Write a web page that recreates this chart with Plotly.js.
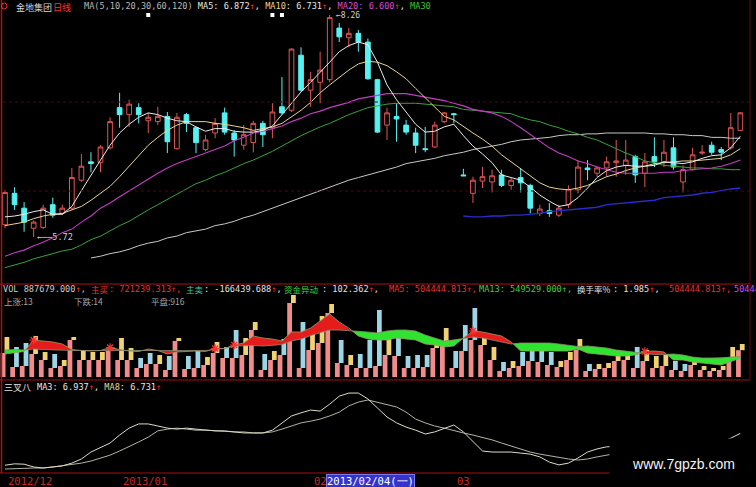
<!DOCTYPE html>
<html><head><meta charset="utf-8">
<script src="https://cdn.plot.ly/plotly-3.0.1.min.js"></script>
<style>html,body{margin:0;padding:0;background:#000;overflow:hidden}#chart{width:756px;height:487px}</style>
</head><body><div id="chart"></div>
<script>
// 金地集团 daily K-line, 2012-12-14 .. 2013-04-16
const dates = ['2012-12-14','2012-12-17','2012-12-18','2012-12-19','2012-12-20','2012-12-21','2012-12-24','2012-12-25','2012-12-26','2012-12-27','2012-12-28','2012-12-31',
 '2013-01-04','2013-01-07','2013-01-08','2013-01-09','2013-01-10','2013-01-11','2013-01-14','2013-01-15','2013-01-16','2013-01-17','2013-01-18','2013-01-21','2013-01-22','2013-01-23','2013-01-24','2013-01-25','2013-01-28','2013-01-29','2013-01-30','2013-01-31',
 '2013-02-01','2013-02-04','2013-02-05','2013-02-06','2013-02-07','2013-02-08','2013-02-18','2013-02-19','2013-02-20','2013-02-21','2013-02-22','2013-02-25','2013-02-26','2013-02-27','2013-02-28',
 '2013-03-01','2013-03-04','2013-03-05','2013-03-06','2013-03-07','2013-03-08','2013-03-11','2013-03-12','2013-03-13','2013-03-14','2013-03-15','2013-03-18','2013-03-19','2013-03-20','2013-03-21','2013-03-22','2013-03-25','2013-03-26','2013-03-27','2013-03-28','2013-03-29',
 '2013-04-01','2013-04-02','2013-04-03','2013-04-08','2013-04-09','2013-04-10','2013-04-11','2013-04-12','2013-04-15','2013-04-16'];

const open = [5.86,6.22,6.05,5.82,5.83,6.09,5.99,6.05,6.37,6.58,
 6.57,6.74,7.20,7.12,7.20,7.05,7.04,7.10,6.73,7.12,
 6.97,6.72,6.91,7.14,6.91,6.77,6.80,7.02,6.97,7.21,
 7.17,7.80,7.40,7.49,7.52,8.11,8.00,8.05,7.95,7.52,
 7.00,7.10,7.00,6.91,6.73,6.75,7.04,7.13,6.43,6.22,
 6.36,6.35,6.43,6.31,6.40,6.31,5.99,6.02,5.97,6.09,
 6.26,6.51,6.45,6.51,6.57,6.54,6.64,6.45,6.64,6.58,
 6.74,6.35,6.49,6.68,6.77,6.72,6.74,6.94];
const high = [6.26,6.29,6.12,5.91,6.09,6.17,6.09,6.51,6.67,6.69,
 6.77,7.09,7.37,7.29,7.25,7.14,7.21,7.15,7.14,7.14,
 6.98,6.89,7.08,7.20,6.94,7.00,7.05,7.05,7.25,7.55,
 7.88,7.89,7.61,7.84,8.26,8.17,8.11,8.09,7.99,7.53,
 7.20,7.25,7.06,6.97,6.98,7.04,7.15,7.14,6.50,6.41,
 6.52,6.49,6.49,6.40,6.51,6.33,6.09,6.11,6.09,6.31,
 6.60,6.60,6.53,6.64,6.83,6.83,6.66,6.68,6.86,6.83,
 6.86,6.54,6.74,6.77,6.81,6.75,7.14,7.15];
const low = [5.82,6.03,5.78,5.72,5.81,5.94,5.97,6.03,6.35,6.46,
 6.46,6.72,6.97,6.98,7.02,6.91,7.00,6.68,6.72,6.92,
 6.68,6.70,6.85,6.89,6.64,6.72,6.69,6.75,6.85,7.12,
 7.15,7.38,7.21,7.25,7.49,7.95,7.89,7.84,7.52,6.91,
 6.83,6.81,6.89,6.68,6.69,6.74,7.02,7.02,6.42,6.11,
 6.28,6.23,6.29,6.26,6.23,5.99,5.96,5.95,5.95,6.05,
 6.22,6.37,6.41,6.41,6.41,6.43,6.34,6.29,6.52,6.52,
 6.49,6.23,6.48,6.66,6.66,6.60,6.72,6.93];
const close = [6.23,6.09,5.89,5.89,6.05,5.97,6.05,6.40,6.53,6.56,
 6.75,7.04,7.12,7.24,7.12,7.09,7.10,6.81,7.09,7.02,
 6.80,6.83,7.02,6.92,6.83,6.89,7.02,6.89,7.15,7.14,
 7.87,7.40,7.52,7.63,8.23,8.01,8.05,7.95,7.53,6.92,
 7.14,7.07,6.92,6.77,6.72,7.00,7.14,7.12,6.42,6.37,
 6.41,6.42,6.31,6.37,6.34,6.05,6.04,5.99,6.05,6.26,
 6.52,6.49,6.51,6.58,6.59,6.60,6.43,6.58,6.58,6.69,
 6.52,6.49,6.66,6.69,6.69,6.69,6.97,7.14];

// price moving averages
const ma5 = [5.95,5.96,5.98,6.01,6.03,5.98,5.98,6.07,6.25,6.43,
 6.60,6.77,6.91,7.01,7.09,7.14,7.12,7.08,7.05,7.04,
 6.98,6.93,6.96,6.96,6.93,6.92,6.92,6.94,6.99,7.12,
 7.25,7.38,7.49,7.60,7.72,7.84,7.91,7.95,7.92,7.72,
 7.46,7.29,7.15,7.01,6.92,6.93,6.98,7.01,6.88,6.76,
 6.67,6.57,6.43,6.40,6.37,6.29,6.20,6.13,6.07,6.09,
 6.17,6.28,6.40,6.48,6.52,6.54,6.53,6.53,6.54,6.58,
 6.57,6.56,6.58,6.62,6.65,6.66,6.74,6.872];
const ma10 = [5.85,5.87,5.89,5.93,5.96,5.98,5.99,6.03,6.07,6.14,
 6.22,6.30,6.41,6.53,6.66,6.77,6.86,6.94,7.00,7.04,
 7.04,7.04,7.02,7.01,6.99,6.97,6.94,6.96,6.98,7.02,
 7.09,7.17,7.26,7.37,7.46,7.55,7.63,7.70,7.73,7.72,
 7.68,7.61,7.53,7.42,7.31,7.20,7.10,7.06,6.99,6.91,
 6.84,6.76,6.66,6.58,6.49,6.41,6.34,6.29,6.27,6.26,
 6.28,6.31,6.36,6.41,6.44,6.48,6.51,6.53,6.56,6.57,
 6.58,6.59,6.59,6.60,6.61,6.62,6.66,6.731];
const ma20 = [5.50,5.54,5.57,5.62,5.66,5.71,5.77,5.81,5.89,5.96,
 6.05,6.11,6.18,6.25,6.31,6.38,6.45,6.51,6.56,6.60,
 6.64,6.68,6.72,6.76,6.82,6.86,6.91,6.93,6.96,6.99,
 7.04,7.08,7.13,7.16,7.20,7.23,7.26,7.30,7.32,7.34,
 7.36,7.36,7.36,7.34,7.32,7.30,7.28,7.25,7.22,7.18,
 7.16,7.14,7.10,7.04,6.97,6.89,6.82,6.74,6.68,6.64,
 6.59,6.56,6.52,6.49,6.46,6.45,6.45,6.45,6.45,6.46,
 6.46,6.48,6.49,6.50,6.51,6.53,6.56,6.600];
const ma30 = [5.37,5.40,5.43,5.47,5.50,5.53,5.56,5.58,5.63,5.69,
 5.73,5.79,5.85,5.90,5.97,6.03,6.09,6.15,6.21,6.27,
 6.33,6.37,6.42,6.46,6.51,6.56,6.60,6.65,6.70,6.76,
 6.82,6.88,6.93,6.98,7.02,7.07,7.12,7.16,7.20,7.22,
 7.24,7.25,7.25,7.25,7.24,7.23,7.22,7.21,7.18,7.17,
 7.16,7.15,7.14,7.13,7.09,7.06,7.04,7.00,6.97,6.93,
 6.90,6.86,6.83,6.78,6.73,6.68,6.64,6.59,6.57,6.54,
 6.53,6.52,6.51,6.51,6.50,6.50,6.49,6.49];
const ma60 = [null,null,null,null,null,null,null,null,null,5.48,
 5.50,5.53,5.55,5.58,5.62,5.65,5.67,5.71,5.73,5.77,
 5.79,5.81,5.85,5.87,5.90,5.94,5.97,6.01,6.05,6.09,
 6.13,6.17,6.21,6.25,6.29,6.33,6.37,6.40,6.43,6.46,
 6.49,6.52,6.56,6.58,6.60,6.62,6.65,6.67,6.69,6.72,
 6.74,6.76,6.78,6.81,6.83,6.84,6.85,6.86,6.88,6.89,
 6.89,6.90,6.90,6.91,6.91,6.91,6.91,6.91,6.90,6.90,
 6.89,6.89,6.88,6.88,6.86,6.86,6.85,6.85];
const ma120 = [null,null,null,null,null,null,null,null,null,null,
 null,null,null,null,null,null,null,null,null,null,
 null,null,null,null,null,null,null,null,null,null,
 null,null,null,null,null,null,null,null,null,null,
 null,null,null,null,null,null,null,null,5.96,5.95,
 5.95,5.96,5.96,5.97,5.97,5.98,5.99,6.01,6.02,6.03,
 6.04,6.05,6.06,6.09,6.10,6.11,6.12,6.13,6.14,6.17,
 6.18,6.19,6.20,6.22,6.23,6.25,6.27,6.28];

// volume (手) and active-buy part of it
const volume = [1076000,807000,914600,1102900,672500,618700,457300,1076000,726300,672500,
 672500,807000,1049100,780100,511100,645600,591800,564900,1049100,564900,
 699400,538000,941500,807000,1264300,1049100,1479500,618700,699400,1022200,
 2205800,1479500,1210500,1640900,1963700,995300,591800,618700,995300,1802300,
 1022200,1102900,564900,591800,591800,887700,1318100,699400,1398800,1856100,
 1129800,807000,403500,430400,672500,833900,753200,672500,430400,672500,
 1022200,349700,349700,376600,726300,645600,807000,726300,564900,591800,
 430400,349700,457300,295900,242100,295900,807000,887679];
const activeBuy = [645600,269000,295900,618700,457300,242100,295900,995300,457300,457300,
 457300,753200,457300,457300,242100,349700,349700,188300,968400,215200,
 242100,322800,645600,511100,511100,591800,1264300,188300,457300,591800,
 1990600,242100,726300,914600,1721600,376600,322800,242100,242100,295900,
 591800,564900,242100,242100,269000,780100,914600,242100,699400,995300,
 860800,457300,161400,242100,295900,430400,403500,322800,269000,457300,
 726300,161400,215200,242100,430400,457300,242100,430400,242100,295900,
 188300,161400,322800,188300,161400,188300,511100,721239.3125];
const volMa5 = [618700,645600,686000,995300,968400,941500,887700,739800,712900,699400,
 712900,793600,739800,699400,686000,753200,712900,618700,672500,686000,
 699400,686000,766700,766700,860800,914600,1102900,1049100,1022200,968400,
 1210500,1210500,1318100,1506400,1694700,1479500,1318100,1102900,1022200,995300,
 995300,1049100,1022200,995300,887700,860800,807000,833900,1049100,1237400,
 1210500,1156700,1102900,941500,699400,699400,699400,699400,699400,699400,
 753200,645600,618700,591800,564900,564900,591800,686000,699400,672500,
 457300,457300,403500,376600,349700,322800,417000,504444.813];
const volMa13 = [726300,739800,726300,753200,739800,726300,712900,712900,712900,712900,
 712900,712900,712900,712900,712900,712900,712900,699400,699400,699400,
 699400,712900,739800,766700,833900,847400,847400,833900,847400,874300,
 968400,1022200,1116400,1197100,1264300,1264300,1250900,1237400,1210500,1183600,
 1237400,1264300,1264300,1237400,1129800,1049100,968400,995300,1035700,1076000,
 1049100,995300,941500,887700,914600,914600,914600,914600,887700,860800,
 820500,833900,807000,780100,726300,699400,672500,632200,605300,605300,
 618700,591800,538000,511100,511100,511100,538000,549529];

// 三叉八 indicator lines
const sxbMa3 = [6.02,6.06,6.05,5.97,5.94,5.97,6.00,6.08,6.20,6.40,
 6.52,6.66,6.89,7.09,7.21,7.21,7.15,7.09,7.06,7.09,
 7.06,7.03,7.01,7.01,6.98,6.95,6.95,6.95,7.03,7.24,
 7.44,7.53,7.61,7.58,7.78,8.01,8.10,8.10,7.93,7.67,
 7.41,7.24,7.12,7.03,6.92,6.98,7.09,7.18,6.98,6.69,
 6.43,6.40,6.40,6.40,6.37,6.34,6.26,6.11,6.03,6.08,
 6.23,6.40,6.49,6.55,6.56,6.59,6.54,6.52,6.53,6.62,
 6.60,6.57,6.56,6.61,6.68,6.69,6.80,6.937];
const sxbMa8 = [5.91,5.91,5.93,5.94,5.94,5.97,6.00,6.03,6.08,6.14,
 6.23,6.31,6.43,6.55,6.69,6.83,7.01,7.06,7.09,7.06,
 7.03,7.03,7.01,7.01,6.98,6.98,6.95,6.95,6.98,7.06,
 7.15,7.24,7.29,7.35,7.44,7.55,7.73,7.84,7.90,7.84,
 7.76,7.70,7.55,7.35,7.24,7.15,7.09,7.01,6.95,6.89,
 6.83,6.75,6.66,6.57,6.49,6.40,6.34,6.29,6.23,6.20,
 6.17,6.20,6.26,6.31,6.36,6.42,6.47,6.51,6.53,6.57,
 6.57,6.56,6.58,6.60,6.62,6.63,6.68,6.731];

const signalDays = ['2013-01-09','2013-01-28','2013-01-29'];
const crossDays = ['2012-12-19','2012-12-31','2013-01-18','2013-01-22','2013-03-05','2013-03-29'];
const cursorDate = '2013-02-04';

// ---------------------------------------------------------------
const W = 756, H = 487;
const idx = dates.map((d, i) => i);
const last = a => a[a.length - 1];
const py = p => 1 - p / H;
const RED = '#ff3030';
const mono = 'DejaVu Sans Mono, monospace';
const cjk = 'Noto Sans CJK SC, sans-serif';
const up = '<span style="color:' + RED + '">↑</span>';

const traces = [];
traces.push({type:'candlestick', x: idx, open, high, low, close, xaxis:'x', yaxis:'y',
  increasing:{line:{color:'#e05555', width:1}, fillcolor:'#000000'},
  decreasing:{line:{color:'#56f2f2', width:1}, fillcolor:'#56f2f2'},
  whiskerwidth:0, hoverinfo:'skip'});
const maLine = (y, color, w) => ({type:'scatter', mode:'lines', x: idx, y, xaxis:'x', yaxis:'y',
  line:{color, width:w}, hoverinfo:'skip'});
traces.push(maLine(ma120, '#2b2bd0', 1.4));
traces.push(maLine(ma60, '#c8c8c8', 1));
traces.push(maLine(ma30, '#3aa23a', 1));
traces.push(maLine(ma20, '#c43cc4', 1.1));
traces.push(maLine(ma10, '#e6d690', 1));
traces.push(maLine(ma5, '#ececec', 1));
traces.push({type:'scatter', mode:'markers', x: signalDays.map(d => dates.indexOf(d)),
  y: signalDays.map(() => 8.26), xaxis:'x', yaxis:'y',
  marker:{symbol:'square', size:4, color:'#ffffff'}, hoverinfo:'skip'});

// volume: active-buy base plus remainder cap, cap colored by change from previous close
const capColor = close.map((c, i) => (i === 0 || c >= close[i - 1]) ? '#f0d274' : '#9cd6e6');
traces.push({type:'bar', x: idx, y: activeBuy, base: 0, width: 0.5, xaxis:'x', yaxis:'y2',
  marker:{color:'#f08c8c', line:{width:0}}, hoverinfo:'skip'});
traces.push({type:'bar', x: idx, y: volume.map((v, i) => v - activeBuy[i]), base: activeBuy, width: 0.5,
  xaxis:'x', yaxis:'y2', marker:{color: capColor, line:{width:0}}, hoverinfo:'skip'});

// ribbon between volume MA5 and MA13 (red while MA5 is above)
const pts = [];
for (let i = 0; i < idx.length; i++) {
  pts.push({x: i, a: volMa5[i], b: volMa13[i]});
  if (i < idx.length - 1) {
    const d0 = volMa5[i] - volMa13[i], d1 = volMa5[i + 1] - volMa13[i + 1];
    if (d0 * d1 < 0) {
      const t = d0 / (d0 - d1);
      const v = volMa5[i] + t * (volMa5[i + 1] - volMa5[i]);
      pts.push({x: i + t, a: v, b: v, cross: true});
    }
  }
}
const runs = [];
let cur = [], sign = 0;
for (const p of pts) {
  const d = p.a - p.b;
  if (p.cross) { cur.push(p); runs.push({sign, pts: cur}); cur = [p]; sign = 0; continue; }
  if (sign === 0 && d !== 0) sign = d > 0 ? 1 : -1;
  cur.push(p);
}
runs.push({sign, pts: cur});
const poly = {red:{x:[], y:[]}, green:{x:[], y:[]}};
for (const r of runs) {
  if (r.sign === 0) continue;
  const tgt = r.sign > 0 ? poly.red : poly.green;
  r.pts.forEach(p => { tgt.x.push(p.x); tgt.y.push(p.a); });
  r.pts.slice().reverse().forEach(p => { tgt.x.push(p.x); tgt.y.push(p.b); });
  tgt.x.push(null); tgt.y.push(null);
}
traces.push({type:'scatter', mode:'lines', x: poly.red.x, y: poly.red.y, xaxis:'x', yaxis:'y2',
  fill:'toself', fillcolor:'#e41c1c', line:{width:0, color:'#e41c1c'}, hoverinfo:'skip'});
traces.push({type:'scatter', mode:'lines', x: poly.green.x, y: poly.green.y, xaxis:'x', yaxis:'y2',
  fill:'toself', fillcolor:'#2ee42e', line:{width:0, color:'#2ee42e'}, hoverinfo:'skip'});
traces.push({type:'scatter', mode:'lines', x: idx, y: volMa5, xaxis:'x', yaxis:'y2',
  line:{color:'#9c9c64', width:0.8}, hoverinfo:'skip'});
traces.push({type:'scatter', mode:'lines', x: idx, y: volMa13, xaxis:'x', yaxis:'y2',
  line:{color:'#8c8c6c', width:0.8}, hoverinfo:'skip'});
traces.push({type:'scatter', mode:'markers', x: crossDays.map(d => dates.indexOf(d)),
  y: crossDays.map(d => volMa5[dates.indexOf(d)]), xaxis:'x', yaxis:'y2',
  marker:{symbol:'asterisk-open', size:7, color:RED, line:{color:RED, width:1.2}}, hoverinfo:'skip'});

// 三叉八
traces.push({type:'scatter', mode:'lines', x: idx, y: sxbMa8, xaxis:'x', yaxis:'y3',
  line:{color:'#b4b4a4', width:1}, hoverinfo:'skip'});
traces.push({type:'scatter', mode:'lines', x: idx, y: sxbMa3, xaxis:'x', yaxis:'y3',
  line:{color:'#dcdcc8', width:1}, hoverinfo:'skip'});

// ---------------------------------------------------------------
const ann = [];
const txt = (px, pyy, text, color, family, size, extra) => ann.push(Object.assign({
  xref:'paper', yref:'paper', x: px / W, y: py(pyy), xanchor:'left', yanchor:'middle',
  text, showarrow:false, font:{family, size, color}}, extra || {}));

// price legend
txt(14, 7, '金地集团', '#d4d4d4', cjk, 9);
txt(51, 7, '日线', RED, cjk, 9);
txt(82, 6, '<span style="color:#b8b8b8">MA(5,10,20,30,60,120)</span> MA5: ' + last(ma5).toFixed(3) + up +
  ', <span style="color:#e6d690">MA10</span>: ' + last(ma10).toFixed(3) + up +
  ', <span style="color:#d84cd8">MA20: ' + last(ma20).toFixed(3) + '</span>' + up +
  ', <span style="color:#3cc03c">MA30</span>', '#e8e8e8', mono, 8.6);

// volume legend
const sell = last(activeBuy) - last(volume);
txt(1, 289, 'VOL ' + last(volume).toFixed(3) + up + ',', '#c8c8c8', mono, 8.6);
txt(89, 289, '主买', RED, cjk, 8.5);
txt(107, 289, ': ' + last(activeBuy).toFixed(3) + '↑,', '#e03434', mono, 8.6);
txt(184, 289, '主卖', '#3ccca8', cjk, 8.5);
txt(202, 289, ': ' + sell.toFixed(3) + up + ',', '#e0e0e0', mono, 8.6);
txt(282, 289, '资金异动', '#3cd83c', cjk, 8.5);
txt(320, 289, ': 102.362' + up + ',', '#e0e0e0', mono, 8.6);
txt(387, 289, 'MA5: ' + last(volMa5).toFixed(3) + '↑,', '#e03434', mono, 8.6);
txt(477, 289, 'MA13: ' + last(volMa13).toFixed(3) + '↑,', '#3cd03c', mono, 8.6);
txt(575, 289, '换手率%', '#e0e0e0', cjk, 8.5);
txt(611, 289, ': 1.985' + up + ',', '#e0e0e0', mono, 8.6);
txt(667, 289, last(volMa5).toFixed(3) + '↑,', '#e03434', mono, 8.6);
txt(732, 289, last(volMa5).toFixed(3), '#c050ff', mono, 8.6);
txt(2, 301, '上涨:13', '#a4a4a4', cjk, 8.5);
txt(72, 301, '下跌:14', '#a4a4a4', cjk, 8.5);
txt(149, 301, '平盘:916', '#a4a4a4', cjk, 8.5);

// 三叉八 legend
txt(2, 387, '三叉八', '#e4e4e4', cjk, 9);
txt(35, 387, 'MA3: ' + last(sxbMa3).toFixed(3) + up + ', <span style="color:#e6d690">MA8</span>: ' +
  last(sxbMa8).toFixed(3) + up, '#e8e8e8', mono, 8.6);

// high / low tags
const hiIdx = high.indexOf(Math.max(...high));
const loIdx = low.indexOf(Math.min(...low));
ann.push({xref:'x', yref:'y', x: hiIdx, y: high[hiIdx], xanchor:'left', yanchor:'middle', xshift:4, yshift:-1,
  text:'←' + high[hiIdx].toFixed(2), showarrow:false, font:{family:mono, size:8, color:'#d0d0d0'}});
ann.push({xref:'x', yref:'y', x: loIdx, y: low[loIdx], xanchor:'left', yanchor:'middle', xshift:1,
  text:'←──' + low[loIdx].toFixed(2), showarrow:false, font:{family:mono, size:8.5, color:'#d0d0d0'}});

// month labels on the time axis
let prevY = null;
dates.forEach((d, i) => {
  const [y, m] = d.split('-');
  if (i === 0 || m !== dates[i - 1].split('-')[1]) {
    const label = (y !== prevY) ? y + '/' + m : m;
    prevY = y;
    ann.push({xref:'x', yref:'paper', x: i, y: py(481), xanchor:'left', yanchor:'middle', xshift:1,
      text: label, showarrow:false, font:{family:mono, size:10.5, color:'#c42a2a'}});
  }
});
const wk = '日一二三四五六'[new Date(cursorDate + 'T00:00:00').getDay()];
ann.push({xref:'x', yref:'paper', x: dates.indexOf(cursorDate), y: py(481), xanchor:'left', yanchor:'middle', xshift:6,
  text: cursorDate.replace(/-/g, '/') + '(' + wk + ')', showarrow:false, bgcolor:'#3434cc',
  bordercolor:'#7a7aee', borderwidth:1, borderpad:0, font:{family:mono, size:10.5, color:'#ffffff'}});

// site mark box
ann.push({xref:'paper', yref:'paper', x: 609 / W, y: py(438), xanchor:'left', yanchor:'top',
  width:147, height:49, borderpad:0, bgcolor:'#000000', align:'center', valign:'middle',
  text:'www.7gpzb.com', showarrow:false, font:{family:'Liberation Sans, Arial, sans-serif', size:14, color:'#f2f2f2'}});

// frame and guide lines
const hline = (yPix, x0, x1, color, dash) => ({type:'line', xref:'paper', yref:'paper', x0: x0 / W, x1: x1 / W,
  y0: py(yPix), y1: py(yPix), line:{color, width:1, dash: dash || 'solid'}});
const shapes = [
  hline(102, 3, 750, '#4a0808', 'dot'),
  hline(191, 3, 750, '#4a0808', 'dot'),
  hline(284, 0, 750, '#b01010'),
  hline(380, 0, 750, '#a01010'),
  hline(473, 0, 611, '#a01010'),
  {type:'line', xref:'paper', yref:'paper', x0: 1.5 / W, x1: 1.5 / W, y0: py(473), y1: 1, line:{color:'#b01010', width:1.5}},
  {type:'line', xref:'paper', yref:'paper', x0: 750 / W, x1: 750 / W, y0: py(380), y1: 1, line:{color:'#6a0a0a', width:1}},
  {type:'circle', xref:'paper', yref:'paper', x0: 1.5 / W, x1: 7 / W, y0: py(9), y1: py(3), line:{color:RED, width:1}}
];

const layout = {
  width: W, height: H, margin:{l:0, r:0, t:0, b:0},
  paper_bgcolor:'#000000', plot_bgcolor:'#000000', showlegend:false, hovermode:false,
  xaxis:{range:[-0.524, 78.64], visible:false, fixedrange:true, rangeslider:{visible:false}},
  yaxis:{domain:[py(283), 1], range:[5.1937, 8.4315], visible:false},
  yaxis2:{domain:[py(377), py(284)], range:[0, 2501700], visible:false},
  yaxis3:{domain:[py(473), py(381)], range:[5.7959, 8.4473], visible:false},
  annotations: ann, shapes
};
Plotly.newPlot('chart', traces, layout, {staticPlot:true});
</script>
</body></html>
